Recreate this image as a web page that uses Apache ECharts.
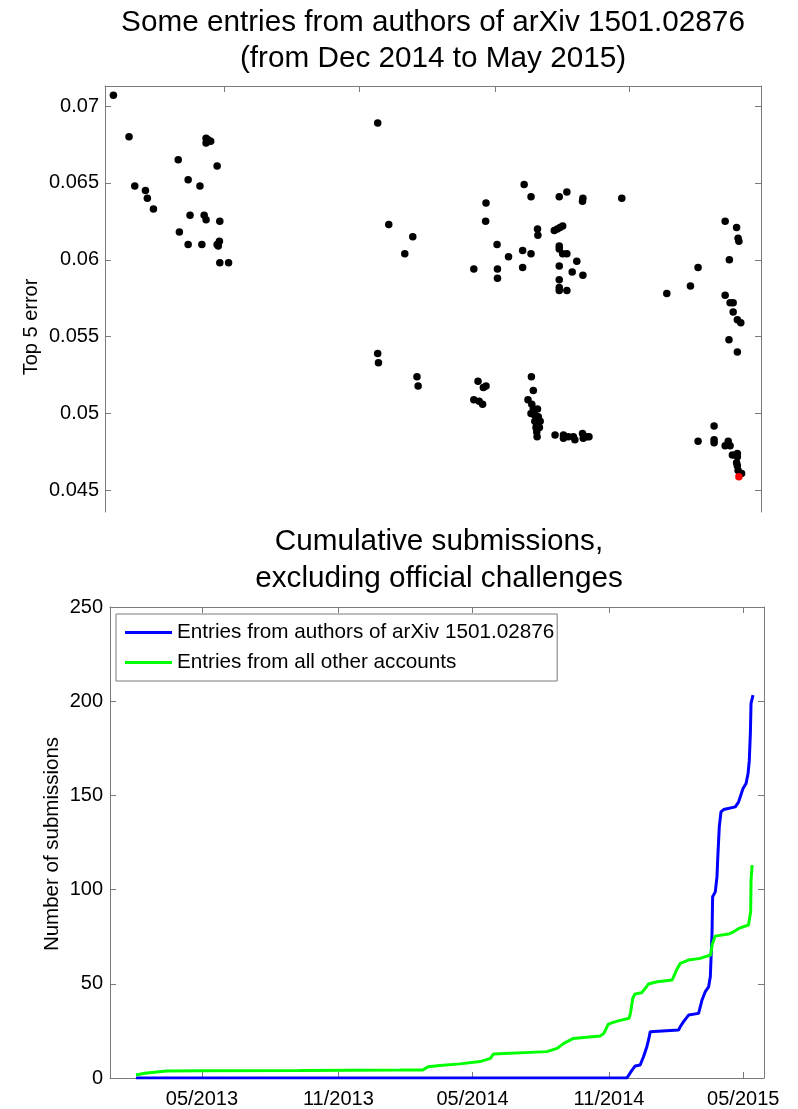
<!DOCTYPE html>
<html>
<head>
<meta charset="utf-8">
<script src="https://cdn.jsdelivr.net/npm/echarts@6/dist/echarts.min.js"></script>
<style>html,body{margin:0;padding:0;background:#fff;}#c{width:798px;height:1109px;}</style>
</head>
<body>
<div id="c"></div>
<script>
// ---- Top panel: entries (days since late Nov 2014, top-5 error) ----
const topDays = [2.2,6.3,7.8,10.6,11.1,12.7,19.2,19.5,21.8,22.3,21.8,24.9,25.4,26.0,26.5,26.5,26.5,27.0,27.7,29.4,30.1,29.4,30.0,29.7,30.1,32.4,
  71.5,74.4,71.5,71.7,80.7,78.6,99.9,99.8,96.7,102.8,102.9,102.9,105.8,109.9,111.7,109.5,111.7,109.5,113.4,113.5,119.1,121.1,125.3,125.2,135.5,
  117.8,118.6,119.3,120.0,119.1,119.1,120.0,121.1,123.7,119.1,122.5,125.3,119.1,119.1,119.1,121.1,147.3,153.5,155.5,162.6,165.6,166.0,166.2,163.7,
  162.6,163.9,164.7,164.7,165.8,166.7,163.6,165.8,81.8,82.1,97.8,99.2,99.9,96.7,98.1,99.0,111.8,112.3,110.9,111.9,112.3,113.4,111.7,112.6,113.6,
  112.7,114.1,113.2,113.0,113.9,113.2,113.3,118.0,120.2,120.2,121.5,122.8,123.2,125.2,125.4,126.3,126.9,159.7,155.5,159.7,159.7,162.6,163.4,163.9,
  164.5,165.8,165.8,165.6,165.8,166.0,166.9];
const topErrors = [0.0707,0.0680,0.0648,0.0645,0.0640,0.0633,0.0665,0.0618,0.0652,0.0629,0.0610,0.0648,0.0610,0.0629,0.0626,0.0679,0.0676,0.0678,0.0677,0.0661,0.0625,0.0610,0.0612,0.0609,0.0598,0.0598,
  0.0689,0.0623,0.0539,0.0533,0.0615,0.0604,0.0637,0.0625,0.0594,0.0610,0.0594,0.0588,0.0602,0.0649,0.0641,0.0606,0.0604,0.0595,0.0620,0.0616,0.0641,0.0644,0.0640,0.0638,0.0640,
  0.0619,0.0620,0.0621,0.0622,0.0609,0.0607,0.0604,0.0604,0.0599,0.0596,0.0592,0.0590,0.0587,0.0582,0.0580,0.0580,0.0578,0.0583,0.0595,0.0625,0.0621,0.0614,0.0612,0.0600,
  0.0577,0.0572,0.0572,0.0566,0.0561,0.0559,0.0548,0.0540,0.0524,0.0518,0.0521,0.0517,0.0518,0.0509,0.0508,0.0506,0.0524,0.0515,0.0509,0.0506,0.0503,0.0503,0.0500,0.0499,0.0498,
  0.0495,0.0495,0.0493,0.0491,0.0491,0.0488,0.0485,0.0486,0.0486,0.0484,0.0485,0.0485,0.0483,0.0487,0.0484,0.0485,0.0485,0.0492,0.0482,0.0483,0.0481,0.0479,0.0482,0.0479,
  0.0473,0.0474,0.0472,0.0468,0.0466,0.0463,0.0461];
const bestDay = [166.2];
const bestError = [0.0459];
const topTickDays = [31.2, 66.6, 102.3, 137.4];
const topYTicks = [0.045, 0.05, 0.055, 0.06, 0.065, 0.07];

// ---- Bottom panel: cumulative submissions (days since 2013-01-01) ----
const blueDays = [31,693.1,700,704.3,711,715.5,720,722.3,724.6,762.8,765,769.5,776.3,789.8,794.4,798.8,803.3,805.6,807.9,808.7,812.3,814.6,815.7,817.7,820,823.6,839.3,843.8,849.7,853.8,856.5,858.2,859.6,860.5,863.2];
const blueCounts = [0,0,4.2,6.4,6.9,11.3,16.6,20.2,24.6,25.5,27.2,29.9,33.4,34.3,41.4,45.8,48.4,53.7,76.8,96.2,98.8,106.8,117.4,133.3,141.3,142.5,143.9,146.6,153.7,156.3,161.6,168.7,182.9,198.8,203.2];
const greenDays = [31,43,72,117,252,387,418,425,441,468,495,509,513,585,599,608,621,657,662,668,680,696,698,701,704,713,718,722,734,754,756,760,765,776,792,799,806,808,812,830,837,844,857,860,860.5,862];
const greenCounts = [1.6,2.5,3.7,3.9,4.0,4.2,4.3,6.0,6.6,7.5,8.7,10.4,12.7,14.0,15.7,18.4,21.0,22.3,23.7,28.6,30.2,31.7,34.6,42.3,44.6,45.3,47.6,49.9,51.1,52.0,53.7,57.3,60.8,62.6,63.5,64.4,65.3,70.6,75.3,76.4,77.6,79.4,81.2,88.2,105,113];
const bottomTickDays = [120, 304, 485, 669, 850];
const bottomTickLabels = ["05/2013", "11/2013", "05/2014", "11/2014", "05/2015"];
const seriesNames = ["Entries from authors of arXiv 1501.02876", "Entries from all other accounts"];

const FONT = "'Liberation Sans', Arial, Helvetica, sans-serif";
const AX = '#7a7a7a';

const chart = echarts.init(document.getElementById('c'), null, {renderer: 'canvas'});

const tickOnly = (vals) => ({show: true, inside: true, length: 6, lineStyle: {color: AX}, customValues: vals});
const axLine = {show: true, onZero: false, lineStyle: {color: AX, width: 1}};

chart.setOption({
  animation: false,
  backgroundColor: '#fff',
  title: [
    {text: 'Some entries from authors of arXiv 1501.02876\n(from Dec 2014 to May 2015)', left: 428, top: 0, textAlign: 'center',
     textStyle: {fontFamily: FONT, fontSize: 29.7, fontWeight: 'normal', color: '#000', lineHeight: 36}},
    {text: 'Cumulative submissions,\nexcluding official challenges', left: 434, top: 518, textAlign: 'center',
     textStyle: {fontFamily: FONT, fontSize: 29.7, fontWeight: 'normal', color: '#000', lineHeight: 37}}
  ],
  legend: {
    left: 116, top: 614, orient: 'vertical', itemWidth: 47, itemHeight: 3, itemGap: 9,
    padding: [8, 3, 8, 9], borderColor: AX, borderWidth: 1, backgroundColor: '#fff',
    textStyle: {fontFamily: FONT, fontSize: 20.7, color: '#000', lineHeight: 20},
    data: seriesNames.map(n => ({name: n, icon: 'rect'}))
  },
  grid: [
    {left: 105, top: 86, width: 656, height: 426},
    {left: 110, top: 607, width: 654, height: 471}
  ],
  xAxis: [
    {gridIndex: 0, type: 'value', position: 'top', min: 0, max: 172,
     axisLine: axLine, axisTick: tickOnly(topTickDays), axisLabel: {show: false}, splitLine: {show: false}},
    {gridIndex: 1, type: 'value', position: 'bottom', min: -4, max: 878,
     axisLine: axLine, axisTick: tickOnly(bottomTickDays), splitLine: {show: false},
     axisLabel: {show: true, customValues: bottomTickDays, margin: 11, fontFamily: FONT, fontSize: 20, color: '#000',
       formatter: (v) => { const i = bottomTickDays.indexOf(v); return i >= 0 ? bottomTickLabels[i] : ''; }}},
    {gridIndex: 1, type: 'value', position: 'top', min: -4, max: 878,
     axisLine: axLine, axisTick: tickOnly(bottomTickDays), axisLabel: {show: false}, splitLine: {show: false}}
  ],
  yAxis: [
    {gridIndex: 0, type: 'value', position: 'left', min: 0.0436, max: 0.0713,
     axisLine: axLine, axisTick: tickOnly(topYTicks), splitLine: {show: false},
     axisLabel: {show: true, customValues: topYTicks, margin: 6, fontFamily: FONT, fontSize: 20, color: '#000',
       formatter: (v) => String(+v.toFixed(3))}},
    {gridIndex: 0, type: 'value', position: 'right', min: 0.0436, max: 0.0713,
     axisLine: axLine, axisTick: tickOnly(topYTicks), axisLabel: {show: false}, splitLine: {show: false}},
    {gridIndex: 1, type: 'value', position: 'left', min: 0, max: 250, interval: 50,
     axisLine: axLine, axisTick: {show: true, inside: true, length: 6, lineStyle: {color: AX}}, splitLine: {show: false},
     axisLabel: {show: true, margin: 7, fontFamily: FONT, fontSize: 20, color: '#000'}},
    {gridIndex: 1, type: 'value', position: 'right', min: 0, max: 250, interval: 50,
     axisLine: axLine, axisTick: {show: true, inside: true, length: 6, lineStyle: {color: AX}}, axisLabel: {show: false}, splitLine: {show: false}}
  ],
  graphic: [
    {type: 'text', x: 31, y: 327, rotation: Math.PI / 2,
     style: {text: 'Top 5 error', font: '20px ' + FONT, fill: '#000', align: 'center', verticalAlign: 'middle'}},
    {type: 'text', x: 52, y: 844, rotation: Math.PI / 2,
     style: {text: 'Number of submissions', font: '20.5px ' + FONT, fill: '#000', align: 'center', verticalAlign: 'middle'}}
  ],
  series: [
    {type: 'scatter', xAxisIndex: 0, yAxisIndex: 0, symbolSize: 7.5, itemStyle: {color: '#000', opacity: 1},
     data: topDays.map((d, i) => [d, topErrors[i]])},
    {type: 'scatter', xAxisIndex: 0, yAxisIndex: 0, symbolSize: 7.5, itemStyle: {color: '#ff0000', opacity: 1},
     data: bestDay.map((d, i) => [d, bestError[i]])},
    {name: seriesNames[0], type: 'line', xAxisIndex: 1, yAxisIndex: 2, symbol: 'none', color: '#0000ff',
     lineStyle: {color: '#0000ff', width: 3}, data: blueDays.map((d, i) => [d, blueCounts[i]])},
    {name: seriesNames[1], type: 'line', xAxisIndex: 1, yAxisIndex: 2, symbol: 'none', color: '#00ff00',
     lineStyle: {color: '#00ff00', width: 3}, data: greenDays.map((d, i) => [d, greenCounts[i]])}
  ]
});
</script>
</body>
</html>
